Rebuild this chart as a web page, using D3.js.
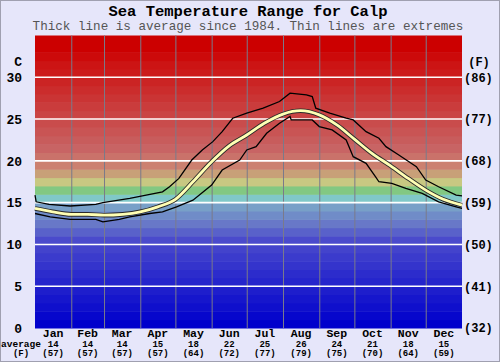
<!DOCTYPE html>
<html>
<head>
<meta charset="utf-8">
<script src="https://cdn.jsdelivr.net/npm/d3@7"></script>
<style>
	body { margin: 0; background: #e6e6fa; }
	svg { display: block; font-family: "Liberation Mono", "DejaVu Sans Mono", monospace; }
</style>
</head>
<body>
<script>
const months = ["Jan", "Feb", "Mar", "Apr", "May", "Jun", "Jul", "Aug", "Sep", "Oct", "Nov", "Dec"];
const monthDays = [31, 28, 31, 30, 31, 30, 31, 31, 30, 31, 30, 31];
const monthAvgC = [14, 14, 14, 15, 18, 22, 25, 26, 24, 21, 18, 15];
const monthAvgF = [57, 57, 57, 57, 64, 72, 77, 79, 75, 70, 64, 59];
const tempTicksC = [0, 5, 10, 15, 20, 25, 30];
const tempTicksF = [32, 41, 50, 59, 68, 77, 86];

// [day of year, degrees C]
const average = [
	[0, 14.3], [15, 13.9], [31, 13.6], [45, 13.6], [59, 13.5], [75, 13.6],
	[90, 13.9], [105, 14.5], [120, 15.4], [135, 17.5], [151, 19.9], [166, 21.8],
	[181, 23.1], [196, 24.5], [212, 25.6], [227, 26.0], [243, 25.5], [258, 24.3],
	[273, 22.6], [288, 20.9], [304, 19.4], [319, 17.9], [334, 16.5], [349, 15.4],
	[365, 14.7]
];
const maximum = [
	[0, 15.9], [1, 15.1], [12, 14.8], [30, 14.6], [52, 14.8], [58, 15.0],
	[81, 15.5], [95, 15.9], [109, 16.3], [115, 16.9], [123, 17.9], [134, 20.1],
	[143, 21.3], [152, 22.3], [160, 23.5], [169, 25.1], [181, 25.7], [195, 26.3],
	[209, 27.1], [218, 28.1], [232, 27.9], [237, 27.7], [240, 26.3], [252, 25.7],
	[266, 25.1], [272, 24.9], [283, 23.5], [294, 22.7], [300, 21.7], [311, 20.7],
	[326, 19.3], [334, 17.7], [345, 16.9], [360, 15.9], [365, 15.8]
];
const minimum = [
	[0, 13.7], [13, 13.3], [30, 13.0], [52, 13.0], [58, 12.7], [72, 13.0],
	[81, 13.3], [98, 13.7], [109, 13.9], [121, 14.5], [135, 15.3], [151, 17.1],
	[160, 18.9], [175, 20.1], [181, 21.3], [189, 21.7], [198, 23.3], [209, 24.5],
	[218, 25.3], [219, 24.9], [237, 24.9], [243, 24.1], [254, 23.7], [266, 22.5],
	[272, 20.5], [283, 19.7], [291, 18.1], [294, 17.5], [305, 17.3], [317, 16.7],
	[331, 16.1], [345, 15.1], [360, 14.5], [365, 14.3]
];

const width = 500, height = 362;
const margin = ({top: 35.5, right: 38, bottom: 34, left: 35});

const x = d3.scaleLinear()
	.domain([0, 365])
	.range([margin.left, width - margin.right]);
const y = d3.scaleLinear()
	.domain([0, 35])
	.range([height - margin.bottom, margin.top]);
const yF = d3.scaleLinear()
	.domain([32, 32 + 35 * 1.8])
	.range([height - margin.bottom, margin.top]);

const bandColor = d3.scaleLinear()
	.domain([0.5, 10.5, 12.5, 14.5, 15.5, 16.5, 17.5, 18.5, 19.5, 21.5, 31.5, 33.5])
	.range(["#0000cc", "#4a4acc", "#6878c8", "#78a0c8", "#80c8c8", "#82c882",
		"#c8c882", "#c8a078", "#cc8070", "#c86464", "#cc1414", "#cc0000"])
	.clamp(true);

const monthStart = d3.cumsum([0].concat(monthDays.slice(0, 11)));
const monthMid = monthStart.map((s, i) => s + monthDays[i] / 2);

const svg = d3.select("body").append("svg")
	.attr("width", width)
	.attr("height", height);

svg.append("rect")
	.attr("x", 0.5).attr("y", 0.5)
	.attr("width", width - 1).attr("height", height - 1)
	.attr("fill", "#e6e6fa")
	.attr("stroke", "#a0a0b0");

// colour bands, one per degree
svg.append("g")
	.selectAll("rect")
	.data(d3.range(0, 35))
	.join("rect")
		.attr("x", x(0))
		.attr("width", x(365) - x(0))
		.attr("y", d => y(d + 1))
		.attr("height", d => y(d) - y(d + 1) + 0.5)
		.attr("fill", d => bandColor(d + 0.5));

svg.append("g")
		.attr("stroke", "#7a7a8a")
		.attr("stroke-width", 1)
	.selectAll("line")
	.data(monthStart.slice(1))
	.join("line")
		.attr("x1", d => x(d) + 0.5).attr("x2", d => x(d) + 0.5)
		.attr("y1", y(35)).attr("y2", y(0));

svg.append("g")
		.attr("stroke", "#ffffff")
		.attr("stroke-width", 1.6)
	.selectAll("line")
	.data(tempTicksC.slice(1))
	.join("line")
		.attr("x1", x(0)).attr("x2", x(365))
		.attr("y1", d => y(d)).attr("y2", d => y(d));

const line = d3.line()
	.x(d => x(d[0]))
	.y(d => y(d[1]));

svg.append("path")
	.datum(maximum)
	.attr("fill", "none")
	.attr("stroke", "#000")
	.attr("stroke-width", 1.3)
	.attr("d", line);

svg.append("path")
	.datum(minimum)
	.attr("fill", "none")
	.attr("stroke", "#000")
	.attr("stroke-width", 1.3)
	.attr("d", line);

const smooth = d3.line()
	.curve(d3.curveMonotoneX)
	.x(d => x(d[0]))
	.y(d => y(d[1]));

svg.append("path")
	.datum(average)
	.attr("fill", "none")
	.attr("stroke", "#2a2a2a")
	.attr("stroke-width", 4.6)
	.attr("d", smooth);

svg.append("path")
	.datum(average)
	.attr("fill", "none")
	.attr("stroke", "#ffffb4")
	.attr("stroke-width", 2.8)
	.attr("d", smooth);

// axes
const yAxis = g => g
	.attr("transform", `translate(${margin.left - 13},0)`)
	.call(d3.axisLeft(y).tickValues(tempTicksC).tickSize(0).tickPadding(0))
	.call(g => g.select(".domain").remove())
	.call(g => g.selectAll("text")
		.attr("font-family", "Liberation Mono, monospace")
		.attr("font-size", 13)
		.attr("font-weight", "bold")
		.attr("fill", "#000"));

const yAxisF = g => g
	.attr("transform", `translate(${width - margin.right + 2},0)`)
	.call(d3.axisRight(yF).tickValues(tempTicksF).tickSize(0).tickPadding(0)
		.tickFormat(d => `(${d})`))
	.call(g => g.select(".domain").remove())
	.call(g => g.selectAll("text")
		.attr("font-family", "Liberation Mono, monospace")
		.attr("font-size", 12)
		.attr("font-weight", "bold")
		.attr("fill", "#000"));

svg.append("g").call(yAxis);
svg.append("g").call(yAxisF);

svg.append("text")
	.attr("x", 22).attr("y", 66)
	.attr("text-anchor", "end")
	.attr("font-size", 13).attr("font-weight", "bold")
	.text("C");

svg.append("text")
	.attr("x", 479).attr("y", 66)
	.attr("text-anchor", "middle")
	.attr("font-size", 12).attr("font-weight", "bold")
	.text("(F)");

const labels = svg.append("g")
		.attr("text-anchor", "middle")
		.attr("font-weight", "bold")
	.selectAll("g")
	.data(months)
	.join("g")
		.attr("transform", (d, i) => `translate(${x(monthMid[i])},0)`);

labels.append("text")
	.attr("y", 337)
	.attr("font-size", 11.5)
	.text(d => d);

labels.append("text")
	.attr("y", 346.5)
	.attr("font-size", 9)
	.text((d, i) => monthAvgC[i]);

labels.append("text")
	.attr("y", 356)
	.attr("font-size", 9)
	.text((d, i) => `(${monthAvgF[i]})`);

svg.append("text")
	.attr("x", 21).attr("y", 346.5)
	.attr("text-anchor", "middle")
	.attr("font-size", 9.5).attr("font-weight", "bold")
	.text("average");

svg.append("text")
	.attr("x", 21).attr("y", 356)
	.attr("text-anchor", "middle")
	.attr("font-size", 9).attr("font-weight", "bold")
	.text("(F)");

svg.append("text")
	.attr("x", 248).attr("y", 16)
	.attr("text-anchor", "middle")
	.attr("font-size", 15.5).attr("font-weight", "bold")
	.text("Sea Temperature Range for Calp");

svg.append("text")
	.attr("x", 248).attr("y", 30)
	.attr("text-anchor", "middle")
	.attr("font-size", 12.6)
	.attr("fill", "#555")
	.text("Thick line is average since 1984. Thin lines are extremes");
</script>
</body>
</html>
